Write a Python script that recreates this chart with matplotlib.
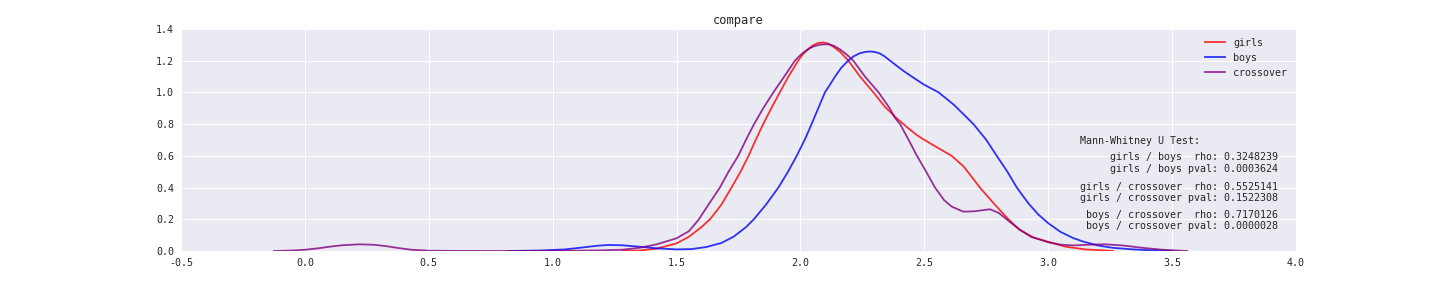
import matplotlib
matplotlib.use("Agg")
import matplotlib.pyplot as plt

# ---- data (KDE curves) ----
girls_x = [1.28, 1.35, 1.42, 1.50, 1.55, 1.60, 1.635, 1.68, 1.72, 1.76, 1.789, 1.815,
           1.845, 1.88, 1.915, 1.95, 1.991, 2.01, 2.03, 2.05, 2.07, 2.092, 2.11, 2.13,
           2.16, 2.193, 2.24, 2.294, 2.34, 2.388, 2.43, 2.47, 2.50, 2.56, 2.61, 2.66,
           2.724, 2.78, 2.839, 2.886, 2.94, 3.00, 3.07, 3.15, 3.262]
girls_y = [0.000, 0.003, 0.015, 0.048, 0.090, 0.150, 0.200, 0.290, 0.395, 0.505, 0.595, 0.685,
           0.785, 0.893, 0.995, 1.095, 1.200, 1.240, 1.270, 1.295, 1.310, 1.314, 1.308, 1.290,
           1.255, 1.200, 1.100, 1.000, 0.910, 0.837, 0.780, 0.730, 0.700, 0.645, 0.600, 0.530,
           0.400, 0.300, 0.200, 0.132, 0.085, 0.058, 0.027, 0.010, 0.000]

boys_x = [0.82, 0.95, 1.05, 1.12, 1.18, 1.225, 1.28, 1.35, 1.42, 1.50, 1.56, 1.62, 1.68,
          1.73, 1.78, 1.812, 1.86, 1.911, 1.95, 1.985, 2.02, 2.045, 2.072, 2.099, 2.12,
          2.14, 2.165, 2.193, 2.215, 2.24, 2.26, 2.281, 2.30, 2.32, 2.34, 2.361, 2.39,
          2.42, 2.46, 2.50, 2.557, 2.62, 2.698, 2.75, 2.792, 2.835, 2.873, 2.92, 2.96,
          3.00, 3.05, 3.10, 3.142, 3.20, 3.26, 3.343, 3.42, 3.50]
boys_y = [0.000, 0.003, 0.010, 0.022, 0.033, 0.038, 0.036, 0.027, 0.017, 0.010, 0.012, 0.025, 0.050,
          0.090, 0.150, 0.200, 0.290, 0.400, 0.500, 0.600, 0.710, 0.800, 0.900, 1.000, 1.050,
          1.100, 1.155, 1.200, 1.227, 1.246, 1.254, 1.257, 1.254, 1.245, 1.226, 1.200, 1.165,
          1.130, 1.088, 1.047, 1.000, 0.920, 0.800, 0.700, 0.600, 0.500, 0.400, 0.300, 0.230,
          0.175, 0.120, 0.082, 0.059, 0.035, 0.020, 0.010, 0.004, 0.000]

cross_x = [-0.125, -0.05, 0.00, 0.05, 0.10, 0.15, 0.22, 0.28, 0.33, 0.38, 0.43, 0.50, 0.60,
           0.80, 1.00, 1.10, 1.20, 1.28, 1.35, 1.42, 1.50, 1.55, 1.588, 1.63, 1.675, 1.71,
           1.749, 1.78, 1.813, 1.85, 1.891, 1.935, 1.978, 2.00, 2.02, 2.04, 2.06, 2.085,
           2.112, 2.135, 2.16, 2.185, 2.213, 2.26, 2.315, 2.36, 2.381, 2.402, 2.44, 2.47,
           2.50, 2.543, 2.58, 2.61, 2.657, 2.70, 2.765, 2.80, 2.832, 2.88, 2.93, 3.00, 3.05,
           3.10, 3.17, 3.23, 3.30, 3.38, 3.46, 3.56]
cross_y = [0.000, 0.003, 0.008, 0.016, 0.027, 0.036, 0.042, 0.039, 0.030, 0.018, 0.008, 0.002, 0.0005,
           0.000, 0.001, 0.002, 0.004, 0.008, 0.020, 0.042, 0.080, 0.125, 0.195, 0.295, 0.400, 0.500,
           0.600, 0.700, 0.800, 0.900, 1.000, 1.100, 1.200, 1.235, 1.260, 1.280, 1.293, 1.301,
           1.303, 1.293, 1.270, 1.240, 1.200, 1.100, 1.000, 0.900, 0.840, 0.800, 0.690, 0.600,
           0.520, 0.400, 0.320, 0.280, 0.248, 0.250, 0.263, 0.240, 0.200, 0.140, 0.090, 0.055, 0.040,
           0.035, 0.040, 0.042, 0.035, 0.020, 0.008, 0.000]

series_labels = ["girls", "boys", "crossover"]
series_colors = ["red", "blue", "purple"]

title = "compare"
stats_header = "Mann-Whitney U Test:"
stats_lines = [
    ("girls / boys  rho: 0.3248239", "girls / boys pval: 0.0003624"),
    ("girls / crossover  rho: 0.5525141", "girls / crossover pval: 0.1522308"),
    ("boys / crossover  rho: 0.7170126", "boys / crossover pval: 0.0000028"),
]

x_ticks = [-0.5, 0.0, 0.5, 1.0, 1.5, 2.0, 2.5, 3.0, 3.5, 4.0]
y_ticks = [0.0, 0.2, 0.4, 0.6, 0.8, 1.0, 1.2, 1.4]

# ---- style ----
plt.rcParams['font.family'] = ['DejaVu Sans Mono', 'DejaVu Sans']
plt.rcParams['font.size'] = 10
plt.rcParams['text.color'] = '.15'
plt.rcParams['axes.labelcolor'] = '.15'
plt.rcParams['xtick.color'] = '.15'
plt.rcParams['ytick.color'] = '.15'
plt.rcParams['axes.unicode_minus'] = False

fig = plt.figure(figsize=(20, 4), dpi=72)
ax = fig.add_axes([0.1257, 0.1285, 0.9 - 0.1257, 0.9 - 0.1285])
ax.set_facecolor('#EAEAF2')
for s in ax.spines.values():
    s.set_visible(False)
ax.grid(True, color='white', linewidth=1.0)
ax.set_axisbelow(True)

for xs, ys, lab, col in zip([girls_x, boys_x, cross_x], [girls_y, boys_y, cross_y],
                            series_labels, series_colors):
    ax.plot(xs, ys, color=col, alpha=0.8, linewidth=1.8, label=lab,
            solid_joinstyle='round')

ax.set_xlim(-0.5, 4.0)
ax.set_ylim(0, 1.4)
ax.set_xticks(x_ticks)
ax.set_yticks(y_ticks)
ax.set_xticklabels([f"{v:.1f}" for v in x_ticks])
ax.set_yticklabels([f"{v:.1f}" for v in y_ticks])
ax.tick_params(length=0, pad=7, labelsize=10)
ax.set_title(title, fontsize=12, pad=5)

leg = ax.legend(loc='upper right', frameon=False, fontsize=10)

ax.text(0.806, 0.495, stats_header, transform=ax.transAxes, ha='left', va='center', fontsize=10)
for (a, b), yc in zip(stats_lines, [0.396, 0.264, 0.138]):
    ax.text(0.984, yc, a + "\n" + b, transform=ax.transAxes, ha='right', va='center',
            multialignment='right', fontsize=10)

fig.savefig("out.png", dpi=72)
